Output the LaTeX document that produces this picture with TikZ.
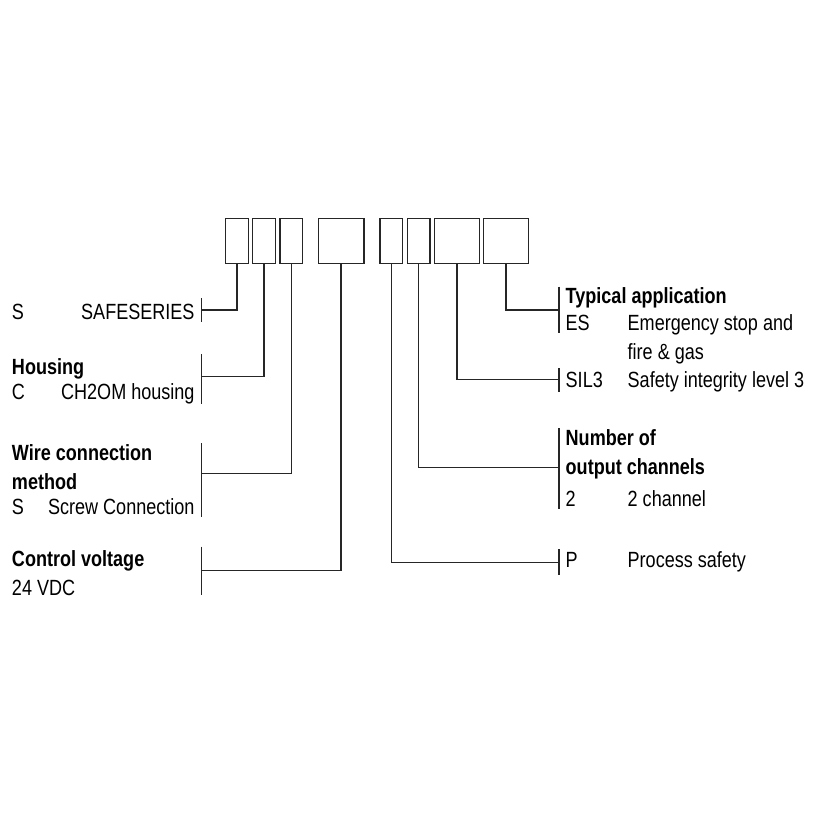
\documentclass[tikz,border=0pt]{standalone}
\usepackage{fontspec}
\setmainfont{Liberation Sans}[FakeStretch=0.82]
\begin{document}
\begin{tikzpicture}[x=1pt,y=-1pt,
  box/.style={draw=black!85,line width=1.5pt,inner sep=0pt,outer sep=0pt,minimum height=45.4pt},
  conn/.style={draw=black!85,line width=1.5pt},
  txt/.style={anchor=base west,inner sep=0pt,outer sep=0pt,font=\fontsize{22}{26}\selectfont},
  txtr/.style={anchor=base east,inner sep=0pt,outer sep=0pt,font=\fontsize{22}{26}\selectfont},
  hd/.style={txt,font=\fontsize{22}{26}\selectfont\bfseries}]
\useasboundingbox (0,0) rectangle (820,820);
% code boxes
\node[box,minimum width=23pt]   (b1) at (236.8,241) {};
\node[box,minimum width=23pt]   (b2) at (264.2,241) {};
\node[box,minimum width=22.7pt] (b3) at (291.3,241) {};
\node[box,minimum width=45.7pt] (b4) at (341.2,241) {};
\node[box,minimum width=22.7pt] (b5) at (391.3,241) {};
\node[box,minimum width=22.7pt] (b6) at (418.7,241) {};
\node[box,minimum width=45pt]   (b7) at (456.8,241) {};
\node[box,minimum width=45pt]   (b8) at (505.8,241) {};
% left bars
\coordinate (j1) at (201.5,310);   \coordinate (t1) at (201.5,298);   \coordinate (u1) at (201.5,322);
\coordinate (j2) at (201.5,376.5); \coordinate (t2) at (201.5,354);   \coordinate (u2) at (201.5,403.5);
\coordinate (j3) at (201.5,473.3); \coordinate (t3) at (201.5,443.3); \coordinate (u3) at (201.5,516.7);
\coordinate (j4) at (201.5,570.7); \coordinate (t4) at (201.5,546.7); \coordinate (u4) at (201.5,595);
% right bars
\coordinate (j8) at (559,310);   \coordinate (t8) at (559,286.7); \coordinate (u8) at (559,332.7);
\coordinate (j7) at (559,379.3); \coordinate (t7) at (559,368.3); \coordinate (u7) at (559,391.7);
\coordinate (j6) at (559,467.7); \coordinate (t6) at (559,428.3); \coordinate (u6) at (559,509.3);
\coordinate (j5) at (559,562.7); \coordinate (t5) at (559,549.3); \coordinate (u5) at (559,575);
\foreach \i in {1,...,8}{
  \draw[conn] (b\i.south) |- (j\i);
  \draw[conn] (t\i) -- (u\i);
}
% left texts
\node[txt]  (s1)  at (12,319.5) {S};
\node[txtr] (s1d) at (194.5,319.5) {SAFESERIES};
\node[hd]   (h2)  at (12,374) {Housing};
\node[txt]  (s2)  at (12,399.5) {C};
\node[txtr] (s2d) at (194.5,399.5) {CH2OM housing};
\node[hd]   (h3a) at (12,460) {Wire connection};
\node[hd]   (h3b) at (12,489) {method};
\node[txt]  (s3)  at (12,514) {S};
\node[txtr] (s3d) at (194.5,514) {Screw Connection};
\node[hd]   (h4)  at (12,566) {Control voltage};
\node[txt]  (s4)  at (12,595) {24 VDC};
% right texts
\node[hd]  (h8)   at (565.7,303.3) {Typical application};
\node[txt] (s8)   at (565.7,330.7) {ES};
\node[txt] (s8d)  at (627.7,330.7) {Emergency stop and};
\node[txt] (s8e)  at (627.7,359.5) {fire \& gas};
\node[txt] (s7)   at (565.7,387) {SIL3};
\node[txt] (s7d)  at (627.7,387) {Safety integrity level 3};
\node[hd]  (h6a)  at (565.7,445) {Number of};
\node[hd]  (h6b)  at (565.7,474) {output channels};
\node[txt] (s6)   at (565.7,506.7) {2};
\node[txt] (s6d)  at (627.7,506.7) {2 channel};
\node[txt] (s5)   at (565.7,567.7) {P};
\node[txt] (s5d)  at (627.7,567.7) {Process safety};
\end{tikzpicture}
\end{document}
